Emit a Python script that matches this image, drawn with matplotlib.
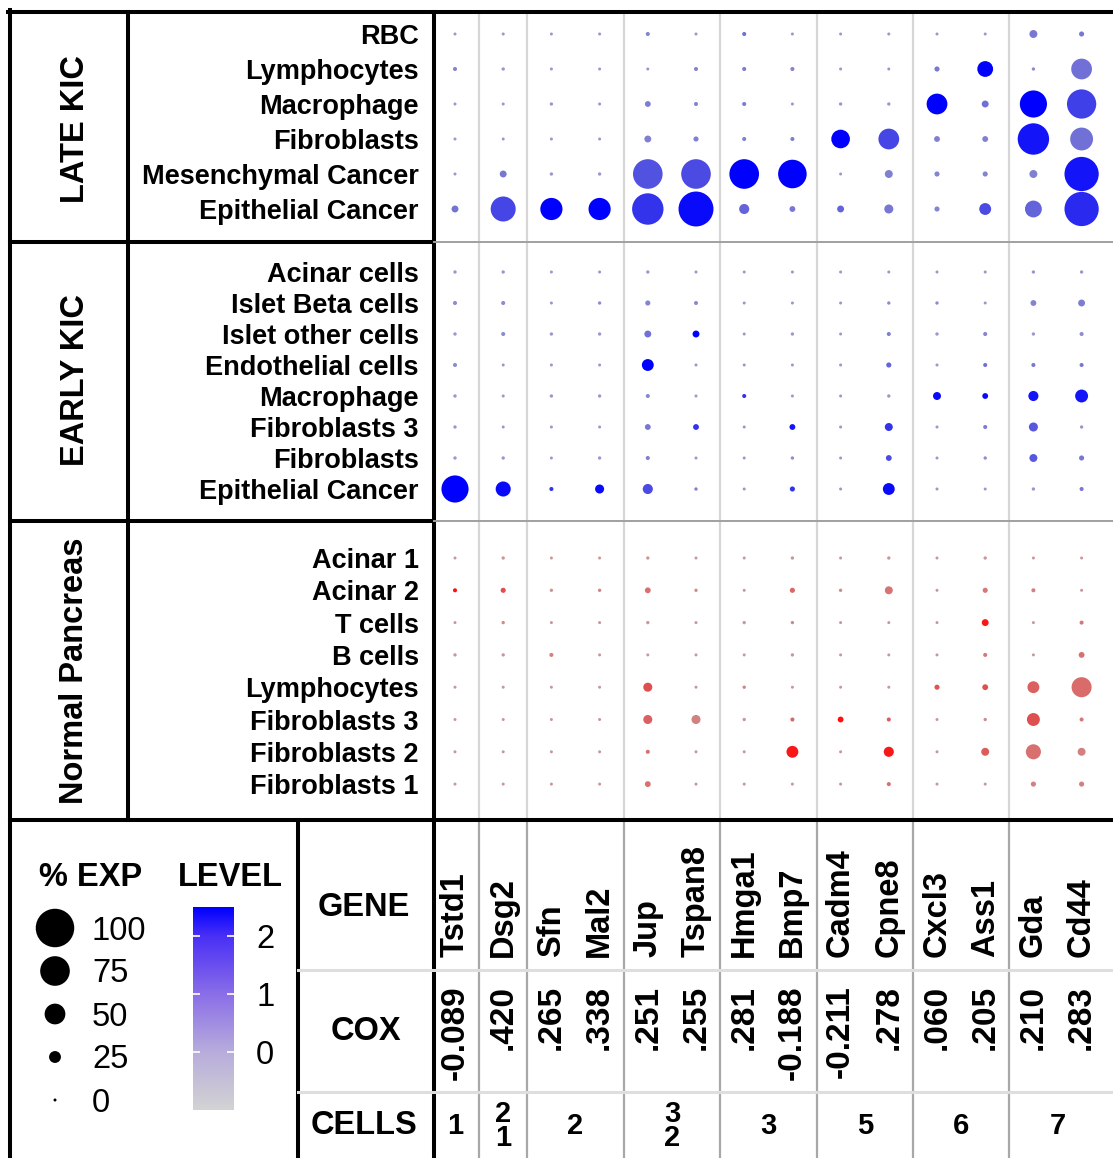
import numpy as np
import matplotlib
matplotlib.use('Agg')
import matplotlib.pyplot as plt
from matplotlib.colors import LinearSegmentedColormap

plt.rcParams['font.family'] = ['Liberation Sans', 'DejaVu Sans']

# ---------------- data ----------------
genes = ['Tstd1', 'Dsg2', 'Sfn', 'Mal2', 'Jup', 'Tspan8', 'Hmga1', 'Bmp7',
         'Cadm4', 'Cpne8', 'Cxcl3', 'Ass1', 'Gda', 'Cd44']
cox = ['-0.089', '.420', '.265', '.338', '.251', '.255', '.281', '-0.188',
       '-0.211', '.278', '.060', '.205', '.210', '.283']
group_sizes = [1, 1, 2, 2, 2, 2, 2, 2]
cells_labels = ['1', '2\n1', '2', '3\n2', '3', '5', '6', '7']

late_rows = ['RBC', 'Lymphocytes', 'Macrophage', 'Fibroblasts',
             'Mesenchymal Cancer', 'Epithelial Cancer']
late_pct = [
    [0, 0, 0, 0, 3, 0, 3, 0, 0, 0, 0, 0, 14, 6],
    [3, 1, 0, 0, 0, 3, 3, 3, 0, 0, 6, 36, 1, 50],
    [0, 0, 1, 0, 8, 3, 3, 0, 1, 1, 50, 11, 68, 74],
    [0, 0, 0, 0, 11, 6, 3, 3, 44, 50, 8, 8, 80, 56],
    [0, 11, 1, 1, 75, 75, 75, 72, 0, 14, 6, 6, 14, 88],
    [11, 62, 54, 54, 80, 90, 20, 8, 11, 17, 6, 25, 39, 88],
]
late_lvl = [
    [0, 0, 0, 0, 0.5, 0, 1.0, 0, 0, 0, 0, 0, 0.8, 0.8],
    [0.5, 0, 0, 0, 0, 0.5, 0.7, 0.5, 0, 0, 0.8, 2.5, 0.3, 1.0],
    [0, 0, 0, 0, 0.7, 0.5, 0.7, 0, 0, 0, 2.5, 1.0, 2.5, 1.8],
    [0, 0, 0, 0, 0.6, 0.6, 0.6, 0.6, 2.5, 1.7, 0.6, 0.6, 2.3, 1.0],
    [0, 0.8, 0, 0, 1.5, 1.6, 2.5, 2.5, 0, 0.6, 0.5, 0.5, 0.6, 2.3],
    [0.9, 1.7, 2.5, 2.5, 2.0, 2.4, 1.2, 0.8, 1.2, 0.8, 0.5, 1.6, 1.2, 2.1],
]

early_rows = ['Acinar cells', 'Islet Beta cells', 'Islet other cells',
              'Endothelial cells', 'Macrophage', 'Fibroblasts 3',
              'Fibroblasts', 'Epithelial Cancer']
early_pct = [
    [1, 1, 0, 0, 1, 0, 0, 0, 0, 0, 0, 0, 1, 1],
    [3, 3, 0, 1, 6, 3, 0, 0, 0, 1, 1, 0, 8, 11],
    [1, 3, 1, 1, 11, 11, 0, 1, 0, 3, 1, 3, 1, 3],
    [3, 0, 0, 0, 25, 0, 0, 0, 0, 6, 0, 3, 3, 3],
    [1, 0, 1, 1, 3, 0, 3, 0, 0, 1, 14, 8, 20, 28],
    [1, 0, 0, 0, 8, 8, 0, 8, 0, 14, 0, 3, 17, 1],
    [1, 1, 0, 1, 3, 0, 0, 1, 0, 8, 0, 1, 14, 6],
    [68, 34, 3, 17, 20, 1, 0, 6, 0, 25, 0, 0, 1, 3],
]
early_lvl = [
    [0, 0, 0, 0, 0, 0, 0, 0, 0, 0, 0, 0, 0, 0],
    [0.3, 0.3, 0, 0.3, 0.5, 0.3, 0, 0, 0, 0.3, 0.3, 0, 0.5, 0.7],
    [0, 0.3, 0, 0, 1.0, 2.5, 0, 0, 0, 0.6, 0, 0.5, 0, 0.3],
    [0.3, 0, 0, 0, 2.5, 0, 0, 0, 0, 1.2, 0, 1.0, 0.8, 0.8],
    [0, 0, 0, 0, 0.4, 0, 2.0, 0, 0, 0, 2.4, 2.4, 2.3, 2.3],
    [0, 0, 0, 0, 0.8, 2.0, 0, 2.3, 0, 2.0, 0, 0.7, 1.4, 0],
    [0, 0, 0, 0, 0.6, 0, 0, 0.3, 0, 1.6, 0, 0.3, 1.4, 0.8],
    [2.5, 2.4, 2.0, 2.4, 1.6, 0.6, 0, 2.0, 0, 2.4, 0, 0, 0, 0.8],
]

normal_rows = ['Acinar 1', 'Acinar 2', 'T cells', 'B cells', 'Lymphocytes',
               'Fibroblasts 3', 'Fibroblasts 2', 'Fibroblasts 1']
normal_pct = [
    [0, 1, 0, 0, 1, 0, 0, 1, 0, 1, 0, 1, 0, 0],
    [3, 6, 1, 1, 8, 1, 0, 6, 1, 14, 0, 6, 3, 0],
    [0, 1, 0, 0, 1, 0, 1, 1, 0, 0, 0, 11, 0, 3],
    [1, 1, 3, 0, 0, 0, 0, 1, 0, 0, 0, 3, 0, 8],
    [0, 0, 0, 0, 17, 0, 1, 0, 0, 0, 6, 8, 25, 48],
    [0, 0, 0, 0, 17, 17, 1, 3, 8, 3, 0, 1, 28, 3],
    [0, 0, 0, 0, 3, 0, 0, 25, 0, 20, 0, 14, 34, 14],
    [0, 0, 0, 0, 8, 0, 0, 0, 0, 3, 0, 0, 6, 6],
]
normal_lvl = [
    [0, 0, 0, 0, 0, 0, 0, 0, 0, 0, 0, 0, 0, 0],
    [2.5, 1.6, 0, 0.5, 1.0, 0.3, 0, 1.2, 0.3, 0.9, 0, 0.8, 0.6, 0],
    [0, 0.3, 0, 0, 0, 0, 0, 0.3, 0, 0, 0, 2.4, 0, 0.8],
    [0, 0, 0.6, 0, 0, 0, 0, 0, 0, 0, 0, 0.8, 0, 1.0],
    [0, 0, 0, 0, 1.6, 0, 0.5, 0, 0, 0, 1.5, 1.6, 1.3, 1.1],
    [0, 0, 0, 0, 1.3, 0.6, 0, 1.2, 2.5, 1.4, 0, 0.3, 1.6, 0.8],
    [0, 0, 0, 0, 1.0, 0, 0, 2.4, 0, 2.4, 0, 1.4, 1.0, 0.6],
    [0, 0, 0, 0, 1.0, 0, 0, 0, 0, 1.0, 0, 0, 0.6, 0.6],
]

legend_pct = [100, 75, 50, 25, 0]
level_ticks = [0, 1, 2]
level_range = (-1.0, 2.5)

# ---------------- styling / layout ----------------
W, H = 1113, 1158
DPI = 100
fig = plt.figure(figsize=(W / DPI, H / DPI), dpi=DPI)

bar_cmap = LinearSegmentedColormap.from_list(
    'lvl_bar', [(0, '#d3d3d3'), (0.286, '#b8acdc'), (0.571, '#8a6ee8'),
                (0.857, '#4a30f6'), (1, '#0000ff')])
blue_cmap = LinearSegmentedColormap.from_list(
    'lvl_blue', [(0, '#c4c4d8'), (0.286, '#9898cc'), (0.571, '#7070d6'),
                 (0.857, '#3434ec'), (1, '#0000ff')])
red_cmap = LinearSegmentedColormap.from_list(
    'lvl_red', [(0, '#d4c4c4'), (0.286, '#c89898'), (0.571, '#d87070'),
                (0.857, '#e23c3c'), (1, '#ff1010')])


def size_of(p):
    d_px = 3.0 + 0.355 * np.asarray(p, float)
    return (d_px * 72.0 / DPI) ** 2


def px_axes(x0, y0, x1, y1, **kw):
    return fig.add_axes([x0 / W, 1 - y1 / H, (x1 - x0) / W, (y1 - y0) / H], **kw)


# column index -> pixel: 455 + 48.2*i ; dot area 434..1113
XLIM = ((434 - 455) / 48.2, (1113 - 455) / 48.2)
bounds = np.cumsum(group_sizes)[:-1] - 0.5
ncol = len(genes)

bold = dict(fontweight='bold')
panels = [
    (late_rows, late_pct, late_lvl, blue_cmap, 12, 242, 34, 35.0),
    (early_rows, early_pct, early_lvl, blue_cmap, 242, 521, 272, 31.0),
    (normal_rows, normal_pct, normal_lvl, red_cmap, 521, 820, 558, 32.3),
]
for rows, pct, lvl, cmap, ytop, ybot, yfirst, step in panels:
    ax = px_axes(434, ytop, 1113, ybot)
    ax.set_facecolor('none')
    n = len(rows)
    ax.set_xlim(*XLIM)
    ax.set_ylim((ybot - yfirst) / step, (ytop - yfirst) / step)
    for b in bounds:
        ax.axvline(b, color='#d6d6d6', lw=1.6, zorder=0)
    xx, yy = np.meshgrid(np.arange(ncol), np.arange(n))
    ax.scatter(xx.ravel(), yy.ravel(), s=size_of(np.array(pct).ravel()),
               c=np.array(lvl).ravel(), cmap=cmap, vmin=level_range[0],
               vmax=level_range[1], linewidths=0, zorder=3)
    ax.set_xticks([])
    ax.set_yticks(range(n))
    ax.set_yticklabels(rows, fontsize=19.5, **bold)
    ax.tick_params(axis='y', length=0, pad=11)
    for sp in ax.spines.values():
        sp.set_visible(False)

# table region (genes / cox / cells)
axt = px_axes(434, 820, 1113, 1158)
axt.set_facecolor('none')
axt.set_xlim(*XLIM)
axt.set_ylim(1158, 820)
axt.axis('off')
for b in bounds:
    axt.axvline(b, color='#a8a8a8', lw=1.6, zorder=0)
for i, g in enumerate(genes):
    axt.text(i, 957, g, rotation=90, ha='center', va='bottom', fontsize=23.5, **bold)
for i, c in enumerate(cox):
    axt.text(i, 985, c, rotation=90, ha='center', va='top', fontsize=24, **bold)
start = 0
for gs, lab in zip(group_sizes, cells_labels):
    cx = start + (gs - 1) / 2.0
    axt.text(cx, 1126, lab, ha='center', va='center', fontsize=21,
             linespacing=0.82, family=['Liberation Sans Narrow', 'Liberation Sans'],
             **bold)
    start += gs

# colorbar
axc = px_axes(193, 907, 234, 1110)
grad = np.linspace(level_range[0], level_range[1], 256).reshape(-1, 1)
axc.imshow(grad, aspect='auto', cmap=bar_cmap, origin='lower',
           extent=[0, 1, level_range[0], level_range[1]])
axc.set_xlim(0, 1)
axc.set_ylim(*level_range)
axc.hlines(level_ticks, 0, 0.18, color='white', lw=1.2)
axc.hlines(level_ticks, 0.82, 1, color='white', lw=1.2)
axc.set_xticks([])
axc.yaxis.tick_right()
axc.set_yticks(level_ticks)
axc.set_yticklabels([str(t) for t in level_ticks], fontsize=23.5)
axc.tick_params(axis='y', length=0, pad=16)
for sp in axc.spines.values():
    sp.set_visible(False)

# frame (lines, group titles, legend)
fr = fig.add_axes([0, 0, 1, 1], facecolor='none')
fr.set_xlim(0, W)
fr.set_ylim(H, 0)
fr.axis('off')
K = 'black'
LW = 2.9
fr.plot([10, 10], [10, H], color=K, lw=LW)
fr.plot([8, W], [12, 12], color=K, lw=LW)
fr.plot([128, 128], [12, 820], color=K, lw=LW)
fr.plot([434, 434], [12, H], color=K, lw=LW)
for yy in (242, 521):
    fr.plot([10, 434], [yy, yy], color=K, lw=LW)
    fr.plot([434, W], [yy, yy], color='#a0a0a0', lw=1.4)
fr.plot([10, W], [820, 820], color=K, lw=LW)
fr.plot([298, 298], [820, H], color=K, lw=LW)
for yy in (970, 1092):
    fr.plot([298, W], [yy, yy], color='#dedede', lw=2.2)

group_titles = [('LATE KIC', 129), ('EARLY KIC', 380), ('Normal Pancreas', 671)]
for t, yc in group_titles:
    fr.text(75, yc, t, rotation=90, ha='center', va='center', fontsize=23.5, **bold)

fr.text(364, 907, 'GENE', ha='center', va='center', fontsize=23.5, **bold)
fr.text(366, 1032, 'COX', ha='center', va='center', fontsize=23.5, **bold)
fr.text(364, 1126, 'CELLS', ha='center', va='center', fontsize=23.5, **bold)
fr.text(91, 877, '% EXP', ha='center', va='center', fontsize=23.5, **bold)
fr.text(230, 877, 'LEVEL', ha='center', va='center', fontsize=23.5, **bold)

ly = 928 + 43 * np.arange(len(legend_pct))
fr.scatter(np.full(len(legend_pct), 55), ly, s=size_of(legend_pct), color='black',
           linewidths=0)
for y, p in zip(ly, legend_pct):
    fr.text(92, y + 3, str(p), ha='left', va='center', fontsize=23.5)

fig.savefig('out.png', dpi=DPI)
